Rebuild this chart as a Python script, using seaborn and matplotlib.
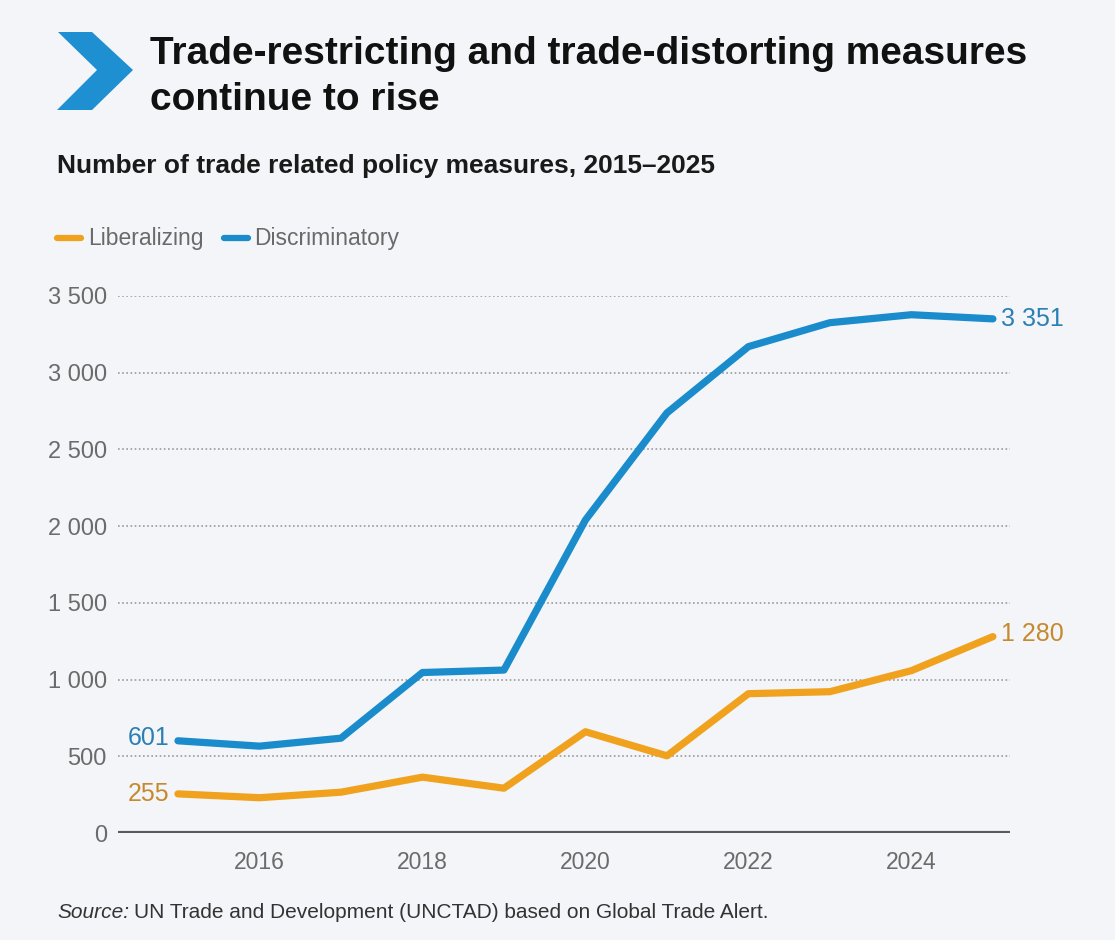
import numpy as np
import pandas as pd
import matplotlib
matplotlib.use("Agg")
import matplotlib.pyplot as plt
from matplotlib.patches import Polygon
import seaborn as sns

years = [2015, 2016, 2017, 2018, 2019, 2020, 2021, 2022, 2023, 2024, 2025]
liberalizing = [255, 230, 266, 364, 292, 660, 503, 908, 921, 1058, 1280]
discriminatory = [601, 566, 618, 1046, 1062, 2040, 2738, 3170, 3326, 3378, 3351]
series_names = ["Liberalizing", "Discriminatory"]
y_ticks = [0, 500, 1000, 1500, 2000, 2500, 3000, 3500]
x_ticks = [2016, 2018, 2020, 2022, 2024]

title = "Trade-restricting and trade-distorting measures\ncontinue to rise"
subtitle = "Number of trade related policy measures, 2015\u20132025"

BG = "#F3F5F8"
BLUE = "#1A8BCB"
ORANGE = "#F0A21E"
BLUE_TXT = "#2A7FB5"
ORANGE_TXT = "#C68A2E"
GRAY = "#6B6B6B"

sns.set_theme(style="white")
plt.rcParams["font.family"] = ["Liberation Sans", "DejaVu Sans"]

df = pd.DataFrame({
    "year": years * 2,
    "value": liberalizing + discriminatory,
    "series": [series_names[0]] * len(years) + [series_names[1]] * len(years),
})

W, H = 1115, 940
def fx(px):
    return px / W
def fy(py):
    return 1 - py / H

fig = plt.figure(figsize=(11.15, 9.4), dpi=100, facecolor=BG)
ax = fig.add_axes([fx(118), fy(833), (1010 - 118) / W, (833 - 296) / H])
ax.set_facecolor(BG)

sns.lineplot(data=df, x="year", y="value", hue="series",
             palette={series_names[0]: ORANGE, series_names[1]: BLUE},
             linewidth=5.2, ax=ax, legend=False, clip_on=False,
             solid_capstyle="round", solid_joinstyle="round", zorder=3)

ax.set_xlim(2014.264, 2025.21)
ax.set_ylim(0, 3500)
ax.set_yticks(y_ticks)
ax.set_yticklabels([f"{v:,}".replace(",", " ") for v in y_ticks])
ax.set_xticks(x_ticks)
ax.set_xticklabels([str(v) for v in x_ticks])
ax.tick_params(axis="y", length=0, labelsize=17, colors=GRAY, pad=8)
ax.tick_params(axis="x", length=0, labelsize=16.5, colors=GRAY, pad=13)
ax.set_xlabel("")
ax.set_ylabel("")
for s in ax.spines.values():
    s.set_visible(False)
for v in y_ticks[1:]:
    ax.axhline(v, color="#9A9A9A", linestyle=(0, (1, 1.5)), linewidth=1.2, zorder=1)
ax.axhline(0, color="#5A5A5A", linewidth=3, zorder=2)

# end labels
lab_fs = 18
ax.annotate(f"{discriminatory[0]:,}".replace(",", " "), (years[0], discriminatory[0]),
            xytext=(-6, 2), textcoords="offset points", ha="right", va="center",
            fontsize=lab_fs, color=BLUE_TXT)
ax.annotate(f"{liberalizing[0]:,}".replace(",", " "), (years[0], liberalizing[0]),
            xytext=(-6, 0), textcoords="offset points", ha="right", va="center",
            fontsize=lab_fs, color=ORANGE_TXT)
ax.annotate(f"{discriminatory[-1]:,}".replace(",", " "), (years[-1], discriminatory[-1]),
            xytext=(6, 0), textcoords="offset points", ha="left", va="center",
            fontsize=lab_fs, color=BLUE_TXT)
ax.annotate(f"{liberalizing[-1]:,}".replace(",", " "), (years[-1], liberalizing[-1]),
            xytext=(6, 2), textcoords="offset points", ha="left", va="center",
            fontsize=lab_fs, color=ORANGE_TXT)

# chevron
chev = [(58, 32), (92, 32), (133, 70), (92, 110), (57, 110), (97, 70)]
fig.patches.append(Polygon([(fx(x), fy(y)) for x, y in chev], closed=True,
                           transform=fig.transFigure, facecolor="#1E8FD0",
                           edgecolor="none"))

fig.text(fx(150), fy(77), title, ha="left", va="center", fontsize=28,
         fontweight="bold", color="#111111", linespacing=1.35)
fig.text(fx(57), fy(166), subtitle, ha="left", va="center", fontsize=19,
         fontweight="bold", color="#1A1A1A")

# legend
lx = 57
for name, col in zip(series_names, [ORANGE, BLUE]):
    fig.lines.append(plt.Line2D([fx(lx), fx(lx + 24)], [fy(238), fy(238)],
                                transform=fig.transFigure, color=col, linewidth=4.5,
                                solid_capstyle="round"))
    t = fig.text(fx(lx + 31), fy(238), name, ha="left", va="center", fontsize=16.5,
                 color="#6A6A6A")
    fig.canvas.draw()
    bb = t.get_window_extent()
    lx = bb.x1 + 20

# source
t1 = fig.text(fx(57), fy(912), "Source:", ha="left", va="center", fontsize=15,
              style="italic", color="#333333")
fig.canvas.draw()
bb = t1.get_window_extent()
fig.text(bb.x1 / W + 5 / W, fy(912), "UN Trade and Development (UNCTAD) based on Global Trade Alert.",
         ha="left", va="center", fontsize=15, color="#333333")

fig.savefig("out.png", dpi=100, facecolor=BG)
